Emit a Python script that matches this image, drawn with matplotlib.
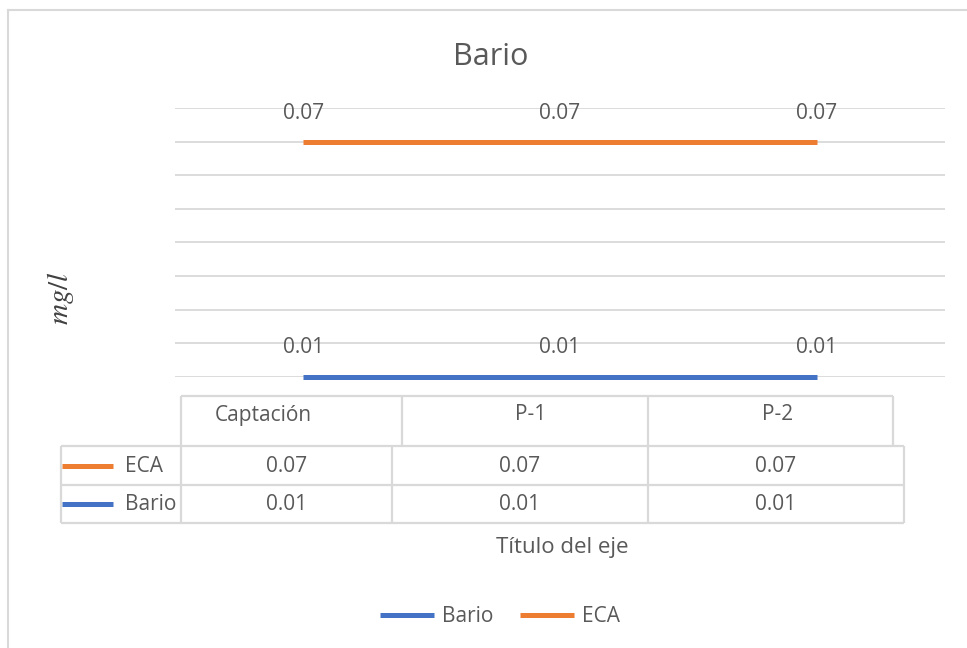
import numpy as np
import matplotlib
matplotlib.use("Agg")
import matplotlib.pyplot as plt
from matplotlib.lines import Line2D

plt.rcParams['font.family'] = ['Open Sans', 'DejaVu Sans']
plt.rcParams['mathtext.fontset'] = 'stix'

# Data
categories = ['Captación', 'P-1', 'P-2']
bario = [0.01, 0.01, 0.01]
eca = [0.07, 0.07, 0.07]

# Colours
c_bario = '#4472C4'
c_eca = '#ED7D31'
c_grid = '#D9D9D9'
c_text = '#595959'

W, H = 967, 648
fig = plt.figure(figsize=(W / 100, H / 100), dpi=100)

# Pixel helper for placing the chart pieces
def fx(px):
    return px / W

def fy(py):
    return 1 - py / H

# Plot area
ax = fig.add_axes([fx(175), fy(377), fx(945) - fx(175), fy(108) - fy(377)])
x = np.arange(len(categories))
ax.plot(x, eca, color=c_eca, lw=3.6, solid_capstyle='butt', zorder=3, clip_on=False)
ax.plot(x, bario, color=c_bario, lw=3.6, solid_capstyle='butt', zorder=3, clip_on=False)

for xi, v in zip(x, eca):
    ax.annotate(f'{v:.2f}', (xi, v), xytext=(0, 20), textcoords='offset points',
                ha='center', va='center', fontsize=15, color=c_text)
for xi, v in zip(x, bario):
    ax.annotate(f'{v:.2f}', (xi, v), xytext=(0, 21.5), textcoords='offset points',
                ha='center', va='center', fontsize=15, color=c_text)

step = (max(eca) - min(bario)) / 7
ax.set_ylim(min(bario), min(bario) + 8 * step)
ax.set_yticks(min(bario) + step * np.arange(9))
ax.set_xlim(-0.5, len(categories) - 0.5)
ax.set_xticks([])
ax.tick_params(axis='y', length=0, labelleft=False)
ax.grid(axis='y', color=c_grid, lw=1.3)
ax.set_axisbelow(True)
for s in ax.spines.values():
    s.set_visible(False)

# Overlay in pixel coordinates for border, data table and legend
ov = fig.add_axes([0, 0, 1, 1], facecolor='none')
ov.set_xlim(0, W)
ov.set_ylim(H, 0)
ov.axis('off')

# chart border (top and left edges)
ov.plot([8, W], [10, 10], color=c_grid, lw=1.5)
ov.plot([8, 8], [10, H], color=c_grid, lw=1.5)

# title and axis titles
ov.text(491, 57, 'Bario', ha='center', va='center', fontsize=22, color=c_text)
ov.text(60, 298, r'$mg/l$', ha='center', va='center', rotation=90,
        fontsize=21, color='#404040')
ov.text(562, 548, 'Título del eje', ha='center', va='center', fontsize=16, color=c_text)

# data table
tl = dict(color=c_grid, lw=1.6, solid_capstyle='butt')
head_cols = [181, 402, 648, 893]
row_cols = [61, 181, 392, 648, 904]
ov.plot([181, 893], [396, 396], **tl)
for cx in head_cols:
    ov.plot([cx, cx], [396, 446], **tl)
for ry in [446, 485, 523]:
    ov.plot([61, 904], [ry, ry], **tl)
for cx in row_cols:
    ov.plot([cx, cx], [446, 523], **tl)

head_x = [263, 531, 778]
for hx, cat in zip(head_x, categories):
    ov.text(hx, 415, cat, ha='center', va='center', fontsize=15, color=c_text)

rows = [('ECA', eca, c_eca, 466), ('Bario', bario, c_bario, 504)]
for name, vals, col, ry in rows:
    ov.plot([62, 113], [ry, ry], color=col, lw=3.6, solid_capstyle='butt')
    ov.text(125, ry, name, ha='left', va='center', fontsize=15, color=c_text)
    for i, v in enumerate(vals):
        cxm = (row_cols[i + 1] + row_cols[i + 2]) / 2
        ov.text(cxm, ry, f'{v:.2f}', ha='center', va='center', fontsize=15, color=c_text)

# legend
handles = [Line2D([], [], color=c_bario, lw=3.6, solid_capstyle='butt'),
           Line2D([], [], color=c_eca, lw=3.6, solid_capstyle='butt')]
fig.legend(handles, ['Bario', 'ECA'], loc='center', bbox_to_anchor=(fx(500), fy(617)),
           ncol=2, frameon=False, fontsize=15, handlelength=2.6, handletextpad=0.35,
           columnspacing=1.3, labelcolor=c_text)

fig.savefig('out.png', dpi=100, facecolor='white')
